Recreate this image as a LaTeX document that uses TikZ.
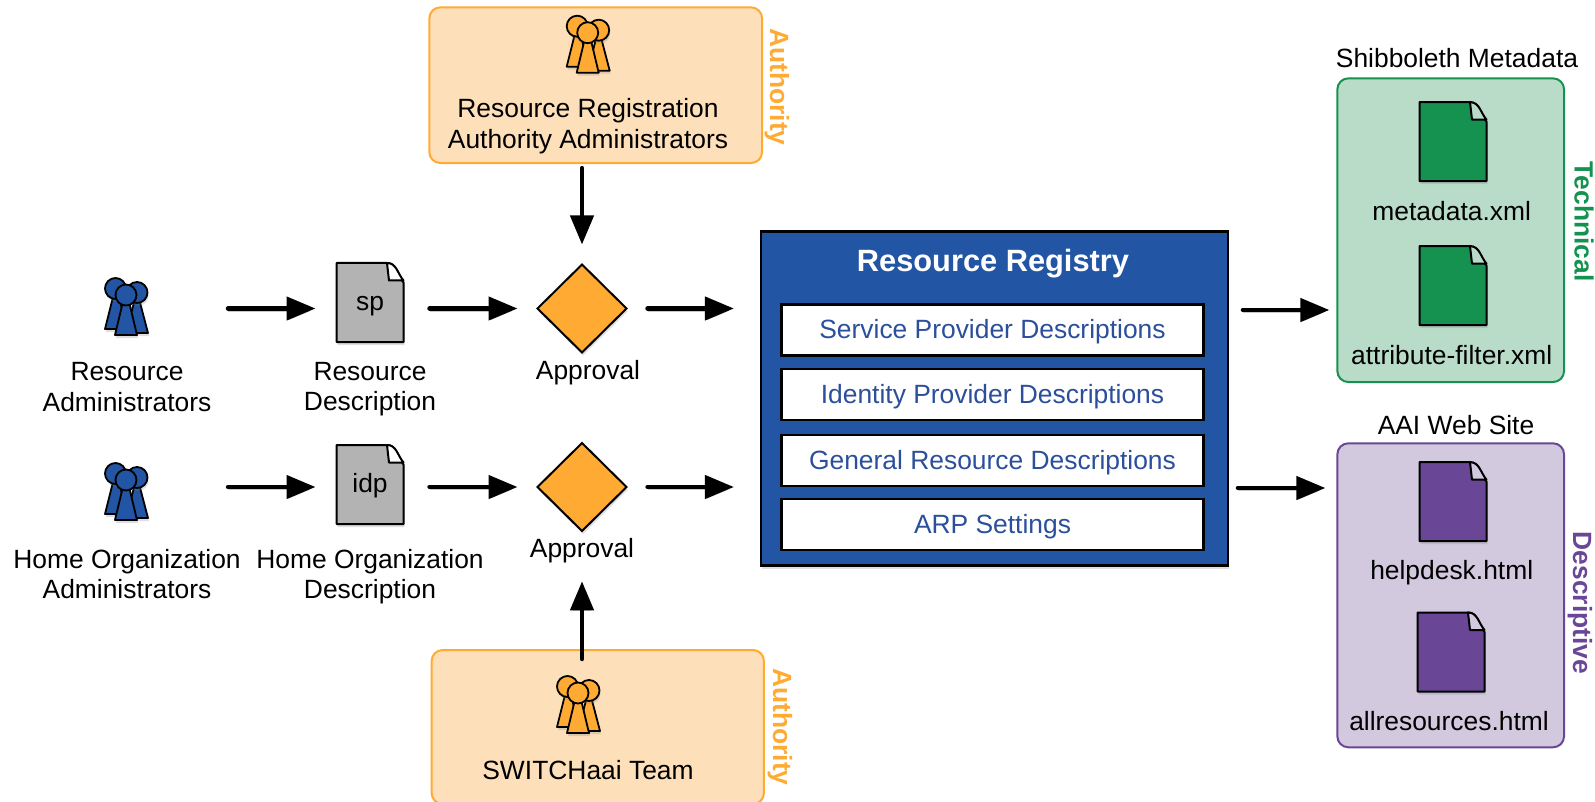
\documentclass[tikz,border=0pt]{standalone}
\usepackage{fontspec}
\setmainfont{Liberation Sans}
\usepackage{tikz}
\usetikzlibrary{arrows,arrows.meta,shapes.geometric,shadows}

\definecolor{regblue}{HTML}{2255A4}
\definecolor{regtext}{HTML}{2B4F9B}
\definecolor{authorange}{HTML}{FFAA33}
\definecolor{authfill}{HTML}{FDE0BA}
\definecolor{techgreen}{HTML}{15924F}
\definecolor{techfill}{HTML}{B9DCC9}
\definecolor{descpurple}{HTML}{6A4796}
\definecolor{descfill}{HTML}{D2C9DF}
\definecolor{docgray}{HTML}{B3B3B3}

\tikzset{
  softshadow/.style={drop shadow={opacity=.25,shadow xshift=1pt,shadow yshift=-3pt}},
  plain/.style={inner sep=0pt,outer sep=0pt,align=center,font=\fontsize{26.4}{30.5}\selectfont},
  sidetag/.style={inner sep=0pt,rotate=-90,font=\fontsize{26.4}{30}\selectfont\bfseries},
  iconbox/.style={inner sep=0pt,outer sep=0pt,minimum width=44pt,minimum height=60pt},
  docbox/.style={plain,minimum width=67pt,minimum height=79pt,text height=18pt,text depth=2pt},
  groupbox/.style={draw=#1,line width=2pt,rounded corners=11pt,inner sep=0pt,outer sep=0pt},
  entry/.style={plain,draw=black,fill=white,line width=2.5pt,minimum width=422pt,minimum height=51pt,text=regtext,text depth=5pt,text height=22pt},
  approval/.style={diamond,draw=black,line width=2pt,fill=authorange,inner sep=0pt,outer sep=0pt,minimum width=89pt,minimum height=88pt,aspect=1,softshadow},
  flow/.style={line width=4.4pt,line cap=round,-{Triangle[length=29pt,width=23pt]},
    preaction={draw=black!22,transform canvas={yshift=-2.5pt}}}
}

\newcommand{\peopleicon}[3]{
  \node[iconbox] (#1) at (#2) {};
  \begin{scope}[shift={(#2)},yshift=13pt,draw=black,fill=#3,line width=1.8pt,line join=round]
    \filldraw[softshadow] (-10,-10) -- (-21,34) -- (1,34) -- cycle;
    \filldraw[softshadow] (-10.5,-6.5) circle (10.5);
    \filldraw[softshadow] (11,-4) -- (0,38) -- (22,38) -- cycle;
    \filldraw[softshadow] (11,-2.5) circle (10.5);
    \filldraw[softshadow] (0,-6) -- (-11,40) -- (11,40) -- cycle;
    \filldraw (0,0) circle (10.5);
  \end{scope}
}

\newcommand{\docicon}[5]{
  \begin{scope}[shift={(#2)},line width=2pt,draw=black,line join=round]
    \filldraw[fill=#3,softshadow] (-33.5,-39.5) -- (17,-39.5) to[out=0,in=130] (33.5,-20) -- (33.5,39.5) -- (-33.5,39.5) -- cycle;
    \filldraw[fill=#4] (17,-39.5) to[out=0,in=130] (33.5,-22) -- (19,-22) -- cycle;
  \end{scope}
  \node[docbox] (#1) at (#2) {#5};
}

\begin{document}
\begin{tikzpicture}[x=1pt,y=-1pt]
\useasboundingbox (0,0) rectangle (1595,802);

% authority boxes
\node[groupbox=authorange,fill=authfill,minimum width=332.7pt,minimum height=155.7pt] (topauth) at (595.7,85.2) {};
\node[groupbox=authorange,fill=authfill,minimum width=332.3pt,minimum height=154pt] (botauth) at (597.8,727) {};
\node[sidetag,text=authorange] (toptag) at (777,87) {Authority};
\node[sidetag,text=authorange] (bottag) at (780,727) {Authority};
\peopleicon{topteam}{587.7,45.7}{authorange}
\peopleicon{botteam}{578,706}{authorange}
\node[plain] (toptext) at (588,126) {Resource Registration\\Authority Administrators};
\node[plain] (bottext) at (588,770) {SWITCHaai Team};

% output boxes
\node[groupbox=techgreen,fill=techfill,minimum width=226.7pt,minimum height=303.7pt] (techbox) at (1450.7,230.2) {};
\node[groupbox=descpurple,fill=descfill,minimum width=226.7pt,minimum height=304pt] (descbox) at (1450.7,595.3) {};
\node[sidetag,text=techgreen] (techtag) at (1584,221.7) {Technical};
\node[sidetag,text=descpurple] (desctag) at (1580,603) {Descriptive};
\node[plain] (techtitle) at (1457,58) {Shibboleth Metadata};
\node[plain] (desctitle) at (1456,425) {AAI Web Site};
\docicon{metadoc}{1453,141.7}{techgreen}{techfill}{}
\docicon{attrdoc}{1453,285.7}{techgreen}{techfill}{}
\docicon{helpdoc}{1453,501.7}{descpurple}{descfill}{}
\docicon{alldoc}{1451,652}{descpurple}{descfill}{}
\node[plain] (metatext) at (1451.7,211) {metadata.xml};
\node[plain] (attrtext) at (1451.7,355) {attribute-filter.xml};
\node[plain] (helptext) at (1451.7,572.5) {helpdesk.html};
\node[plain] (alltext) at (1449,720.7) {allresources.html};

% registry
\node[draw=black,line width=2.5pt,fill=regblue,inner sep=0pt,outer sep=0pt,minimum width=467pt,minimum height=334pt,softshadow] (registry) at (994.4,398.7) {};
\node[plain,text=white] (regtitle) at (993,264) {\fontsize{30.8}{34}\selectfont\bfseries Resource Registry};
\node[entry] (spdesc) at (992.5,330) {Service Provider Descriptions};
\node[entry] (idpdesc) at (992.5,394.5) {Identity Provider Descriptions};
\node[entry] (gendesc) at (992.5,460.7) {General Resource Descriptions};
\node[entry] (arpdesc) at (992.5,524.7) {ARP Settings};

% upper row
\peopleicon{resadmin}{126,308}{regblue}
\node[plain] (resadmintext) at (127,387) {Resource\\Administrators};
\docicon{resdoc}{370,302.5}{docgray}{white}{sp}
\node[plain] (resdoctext) at (370,389) {Resource\\Description};
\node[approval] (approveA) at (582,308.5) {};
\node[plain] (approveAtext) at (588,373) {Approval};

% lower row
\peopleicon{homeadmin}{126,493}{regblue}
\node[plain] (homeadmintext) at (127,574) {Home Organization\\Administrators};
\docicon{homedoc}{370,484.5}{docgray}{white}{idp}
\node[plain] (homedoctext) at (370,576.5) {Home Organization\\Description};
\node[approval] (approveB) at (582,487) {};
\node[plain] (approveBtext) at (582,551) {Approval};

% connectors
\draw[flow,shorten <=80pt,shorten >=21pt] (approveA -| resadmin.east) -- (approveA -| resdoc.west);
\draw[flow,shorten <=26pt,shorten >=20pt] (approveA -| resdoc.east) -- (approveA.west);
\draw[flow,shorten <=21pt,shorten >=27pt] (approveA.east) -- (approveA -| registry.west);
\draw[flow,shorten <=80pt,shorten >=21pt] (approveB -| homeadmin.east) -- (approveB -| homedoc.west);
\draw[flow,shorten <=26pt,shorten >=20pt] (approveB -| homedoc.east) -- (approveB.west);
\draw[flow,shorten <=21pt,shorten >=27pt] (approveB.east) -- (approveB -| registry.west);
\draw[flow,shorten <=15pt,shorten >=8pt] ([yshift=-1.5pt]approveA.east -| registry.east) -- ([yshift=-1.5pt]approveA.east -| techbox.west);
\draw[flow,shorten <=10pt,shorten >=12pt] ([yshift=-1pt]approveB.east -| registry.east) -- ([yshift=-1pt]approveB.east -| descbox.west);
\draw[flow,shorten <=5pt,shorten >=20pt] (approveA |- topauth.south) -- (approveA.north);
\draw[flow,shorten <=-9pt,shorten >=18pt] (approveB |- botauth.north) -- (approveB |- approveBtext.south);
\end{tikzpicture}
\end{document}
